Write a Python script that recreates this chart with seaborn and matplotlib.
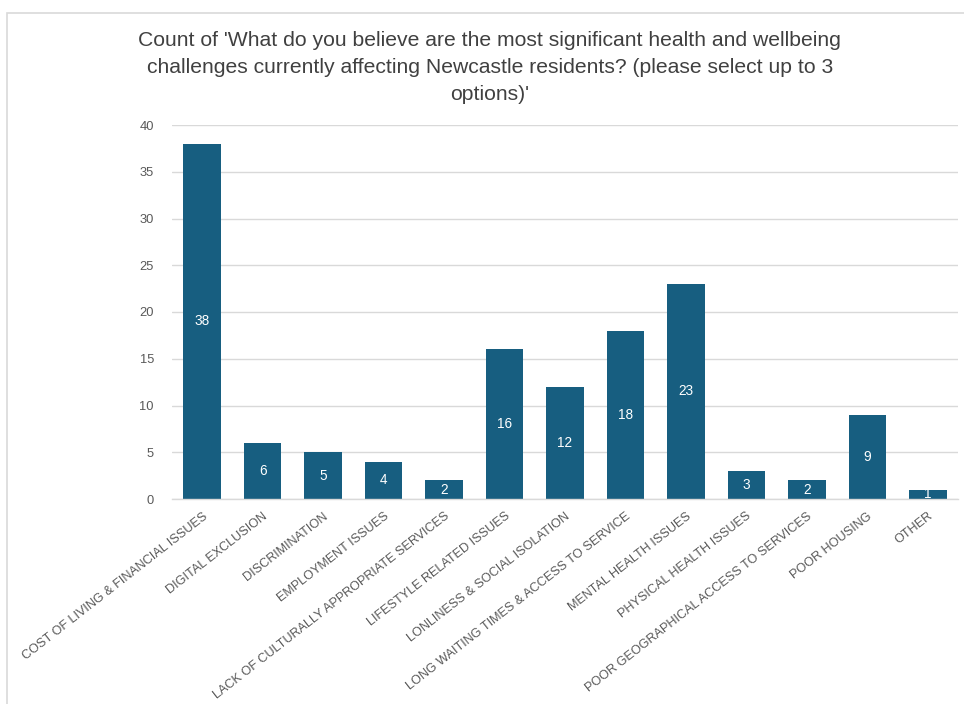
import matplotlib
matplotlib.use("Agg")
import matplotlib.pyplot as plt
import matplotlib.patches as mpatches
import seaborn as sns
import pandas as pd

categories = [
    "COST OF LIVING & FINANCIAL ISSUES",
    "DIGITAL EXCLUSION",
    "DISCRIMINATION",
    "EMPLOYMENT ISSUES",
    "LACK OF CULTURALLY APPROPRIATE SERVICES",
    "LIFESTYLE RELATED ISSUES",
    "LONLINESS & SOCIAL ISOLATION",
    "LONG WAITING TIMES & ACCESS TO SERVICE",
    "MENTAL HEALTH ISSUES",
    "PHYSICAL HEALTH ISSUES",
    "POOR GEOGRAPHICAL ACCESS TO SERVICES",
    "POOR HOUSING",
    "OTHER",
]
counts = [38, 6, 5, 4, 2, 16, 12, 18, 23, 3, 2, 9, 1]
y_ticks = [0, 5, 10, 15, 20, 25, 30, 35, 40]
title = ("Count of 'What do you believe are the most significant health and wellbeing\n"
         "challenges currently affecting Newcastle residents? (please select up to 3\n"
         "options)'")

df = pd.DataFrame({"category": categories, "count": counts})

sns.set_theme(style="white")
plt.rcParams["font.family"] = ["Liberation Sans", "DejaVu Sans"]

W, H = 964, 704
fig = plt.figure(figsize=(W / 100, H / 100), dpi=100)
fig.patch.set_facecolor("white")

# chart frame (runs off the right and bottom edges)
fig.patches.append(mpatches.Rectangle((7 / W, -0.05), 1.1, 1.05 - 13 / H, transform=fig.transFigure,
                                      fill=False, edgecolor="#d9d9d9", linewidth=1.2))

ax = fig.add_axes([172 / W, 1 - 499 / H, (958 - 172) / W, (499 - 125) / H])

bar_color = "#175e80"
sns.barplot(data=df, x="category", y="count", ax=ax, color=bar_color, width=0.62,
            saturation=1, edgecolor="none")

ax.set_ylim(0, 40)
ax.set_xlim(-0.5, len(categories) - 0.5)
ax.set_yticks(y_ticks)
ax.yaxis.grid(True, color="#d9d9d9", linewidth=1)
ax.set_axisbelow(True)
for s in ["top", "right", "left"]:
    ax.spines[s].set_visible(False)
ax.spines["bottom"].set_color("#d9d9d9")
ax.spines["bottom"].set_linewidth(1)
ax.set_xlabel("")
ax.set_ylabel("")
ax.tick_params(axis="y", length=0, pad=13, labelsize=9.3, labelcolor="#595959")
ax.tick_params(axis="x", length=0, pad=8)
ax.set_xticks(range(len(categories)))
ax.set_xticklabels(categories, rotation=38, ha="right", rotation_mode="anchor",
                   fontsize=9.1, color="#595959")

for i, v in enumerate(counts):
    ax.text(i, v / 2, str(v), ha="center", va="center", color="white", fontsize=9.8)

fig.text(0.508, 1 - 31 / H, title, ha="center", va="top", fontsize=15.2, color="#404040",
         linespacing=1.55)

fig.savefig("out.png", dpi=100, facecolor="white")
